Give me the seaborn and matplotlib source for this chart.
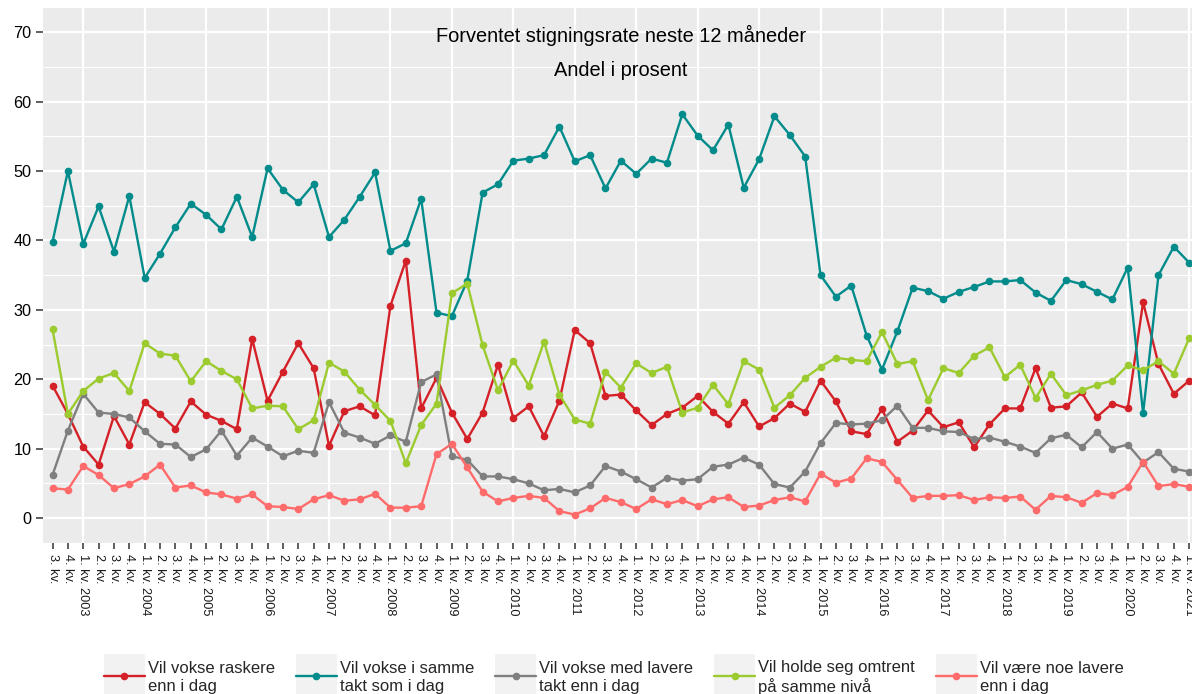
import matplotlib
matplotlib.use('Agg')
import matplotlib.pyplot as plt
from matplotlib.lines import Line2D
from matplotlib.patches import Rectangle
from matplotlib.legend_handler import HandlerTuple, HandlerPatch
import pandas as pd
import seaborn as sns

# Kvartaler fra 3. kv. 2002 til 1. kv. 2021
kvartaler = []
for i in range(75):
    q = (2 + i) % 4 + 1
    aar = 2002 + (2 + i) // 4
    kvartaler.append(f"{q}. kv. {aar}" if q == 1 else f"{q}. kv.")

raskere = [19.1, 15.0, 10.3, 7.7, 14.7, 10.6, 16.7, 15.0, 12.9, 16.8,
           14.9, 14.0, 12.8, 25.8, 16.9, 21.1, 25.2, 21.6, 10.4, 15.4,
           16.1, 14.8, 30.6, 37.1, 15.8, 20.2, 15.2, 11.4, 15.2, 22.1,
           14.4, 16.1, 11.8, 16.9, 27.1, 25.2, 17.6, 17.8, 15.5, 13.4,
           15.0, 15.9, 17.6, 15.3, 13.6, 16.7, 13.2, 14.4, 16.5, 15.3,
           19.8, 16.8, 12.5, 12.1, 15.7, 11.0, 12.6, 15.5, 13.1, 13.8,
           10.2, 13.5, 15.8, 15.8, 21.6, 15.9, 16.1, 18.1, 14.6, 16.5,
           15.8, 31.1, 22.2, 17.9, 19.8]

samme_takt = [39.8, 50.0, 39.5, 44.9, 38.4, 46.4, 34.6, 38.1, 41.9, 45.3,
              43.7, 41.6, 46.3, 40.5, 50.4, 47.3, 45.5, 48.1, 40.5, 43.0,
              46.3, 49.8, 38.5, 39.6, 46.0, 29.6, 29.1, 34.2, 46.9, 48.1,
              51.5, 51.8, 52.3, 56.4, 51.4, 52.3, 47.5, 51.5, 49.6, 51.8,
              51.2, 58.2, 55.1, 53.0, 56.7, 47.6, 51.7, 57.9, 55.2, 52.1,
              35.0, 31.9, 33.5, 26.3, 21.4, 26.9, 33.2, 32.7, 31.6, 32.6,
              33.3, 34.1, 34.1, 34.3, 32.5, 31.3, 34.3, 33.7, 32.6, 31.5,
              36.1, 15.1, 35.0, 39.1, 36.8]

lavere_takt = [6.2, 12.6, 17.9, 15.2, 15.0, 14.5, 12.5, 10.7, 10.6, 8.8,
               9.9, 12.6, 9.0, 11.6, 10.3, 8.9, 9.7, 9.4, 16.7, 12.3,
               11.6, 10.7, 11.9, 11.0, 19.6, 20.7, 8.9, 8.4, 6.0, 6.0,
               5.6, 5.0, 4.0, 4.2, 3.7, 4.7, 7.5, 6.7, 5.6, 4.4,
               5.8, 5.4, 5.6, 7.4, 7.7, 8.7, 7.7, 4.9, 4.4, 6.7,
               10.8, 13.7, 13.5, 13.6, 14.1, 16.2, 13.0, 13.0, 12.5, 12.4,
               11.4, 11.6, 11.0, 10.3, 9.4, 11.5, 12.0, 10.2, 12.4, 10.0,
               10.6, 8.0, 9.5, 7.1, 6.7]

samme_niva = [27.2, 15.0, 18.3, 20.1, 20.9, 18.3, 25.2, 23.7, 23.4, 19.7,
              22.6, 21.2, 20.0, 15.8, 16.2, 16.1, 12.8, 14.1, 22.4, 21.1,
              18.5, 16.3, 14.0, 7.9, 13.4, 16.5, 32.4, 33.8, 24.9, 18.4,
              22.7, 19.1, 25.4, 17.8, 14.2, 13.6, 21.1, 18.8, 22.3, 20.9,
              21.8, 15.2, 15.9, 19.2, 16.4, 22.6, 21.4, 15.9, 17.7, 20.2,
              21.8, 23.1, 22.8, 22.6, 26.8, 22.2, 22.6, 17.0, 21.6, 20.9,
              23.4, 24.6, 20.3, 22.1, 17.3, 20.8, 17.7, 18.4, 19.2, 19.8,
              22.0, 21.3, 22.6, 20.8, 25.9]

noe_lavere = [4.3, 4.1, 7.5, 6.2, 4.3, 4.9, 6.0, 7.7, 4.4, 4.7,
              3.7, 3.4, 2.8, 3.4, 1.7, 1.6, 1.3, 2.7, 3.3, 2.5,
              2.7, 3.5, 1.5, 1.5, 1.7, 9.2, 10.7, 7.3, 3.8, 2.4,
              2.9, 3.2, 2.9, 1.0, 0.5, 1.4, 2.9, 2.3, 1.3, 2.7,
              2.0, 2.6, 1.7, 2.7, 3.0, 1.6, 1.8, 2.6, 3.0, 2.4,
              6.4, 5.1, 5.7, 8.6, 8.1, 5.5, 2.9, 3.2, 3.2, 3.3,
              2.6, 3.0, 2.9, 3.1, 1.2, 3.2, 3.0, 2.2, 3.6, 3.3,
              4.5, 8.1, 4.6, 4.9, 4.5]

serier = ["Vil vokse raskere\nenn i dag",
          "Vil vokse i samme\ntakt som i dag",
          "Vil vokse med lavere\ntakt enn i dag",
          "Vil holde seg omtrent\npå samme nivå",
          "Vil være noe lavere\nenn i dag"]
farger = ["#D42027", "#018B8B", "#7F7F7F", "#9BCB2E", "#FF6B6B"]

df = pd.DataFrame({
    "pos": list(range(len(kvartaler))) * 5,
    "andel": raskere + samme_takt + lavere_takt + samme_niva + noe_lavere,
    "serie": [s for s in serier for _ in kvartaler],
})

sns.set_theme(style="darkgrid")
plt.rcParams['font.family'] = ['Liberation Sans', 'DejaVu Sans']

W, H = 1192, 694
fig = plt.figure(figsize=(W / 100, H / 100), dpi=100)
ax = fig.add_axes([43.3 / W, 1 - 542.7 / H, (1198.4 - 43.3) / W, (542.7 - 8) / H])
ax.set_facecolor("#EBEBEB")

sns.lineplot(data=df, x="pos", y="andel", hue="serie", hue_order=serier,
             palette=dict(zip(serier, farger)), marker="o", markersize=5.5,
             markeredgewidth=0, linewidth=1.7, legend=False, ax=ax)

q1 = [i for i, k in enumerate(kvartaler) if k.startswith("1.")]
andre = [i for i in range(len(kvartaler)) if i not in q1]
ax.set_xticks(q1, [kvartaler[i] for i in q1])
ax.set_xticks(andre, [kvartaler[i] for i in andre], minor=True)
ax.set_xlim(-0.6, len(kvartaler) - 1 + 0.6)
ax.set_ylim(-3.55, 73.5)
ax.set_yticks(range(0, 71, 10))
ax.set_yticks(range(5, 70, 10), minor=True)
ax.set_xlabel("")
ax.set_ylabel("")

ax.grid(which="major", axis="both", color="white", linewidth=1.6)
ax.grid(which="minor", axis="y", color="white", linewidth=0.8)
ax.grid(which="minor", axis="x", visible=False)
for s in ax.spines.values():
    s.set_visible(False)

ax.tick_params(axis="x", which="both", bottom=True, rotation=270, labelsize=9.2,
               length=4.2, width=1.1, color="#333333", pad=4.2, labelcolor="#1a1a1a")
ax.tick_params(axis="y", which="major", left=True, labelsize=11.7, length=5, width=1.1,
               color="#333333", pad=3.5, labelcolor="black")
ax.tick_params(axis="y", which="minor", left=False, length=0)
for lab in ax.get_xticklabels(minor=False) + ax.get_xticklabels(minor=True):
    lab.set_va("top")
    lab.set_ha("center")

ax.text(0.5, 0.9495, "Forventet stigningsrate neste 12 måneder", transform=ax.transAxes,
        ha="center", va="center", fontsize=14.4, color="black")
ax.text(0.5, 0.884, "Andel i prosent", transform=ax.transAxes,
        ha="center", va="center", fontsize=14.4, color="black")


def key_box(legend, orig_handle, xdescent, ydescent, width, height, fontsize):
    # grå nøkkelboks sentrert om linjen, som ggplot sin legend.key
    midt = (height - ydescent) / 2
    return Rectangle((-xdescent, midt - 1.3 * fontsize), width, 2.6 * fontsize)


handles = [(Rectangle((0, 0), 1, 1, facecolor="#F2F2F2", edgecolor="none"),
            Line2D([], [], color=c, marker="o", markersize=5.5, markeredgewidth=0, linewidth=1.7))
           for c in farger]
leg = fig.legend(handles, serier, loc="upper left", bbox_to_anchor=(104 / W, 1 - 660 / H),
                 ncol=5, frameon=False, fontsize=12, handlelength=2.45, handleheight=1.57,
                 handletextpad=0.2, columnspacing=1.25, borderpad=0, borderaxespad=0,
                 handler_map={tuple: HandlerTuple(ndivide=1, pad=0),
                              Rectangle: HandlerPatch(patch_func=key_box)})
for t in leg.get_texts():
    t.set_linespacing(1.25)

fig.savefig("out.png", dpi=100)
